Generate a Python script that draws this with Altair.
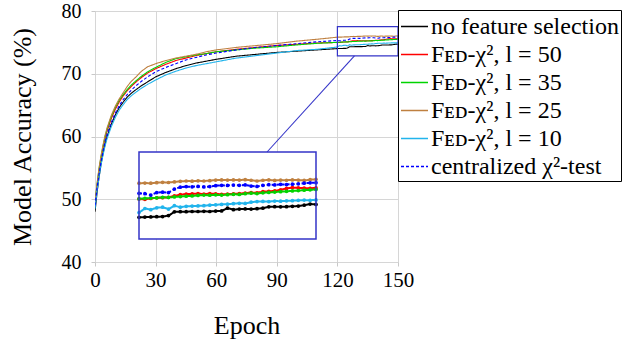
import altair as alt
import pandas as pd

# ---------------- data ----------------
SERIES = ["no feature selection", "Fᴇᴅ-χ², l = 50", "Fᴇᴅ-χ², l = 35",
          "Fᴇᴅ-χ², l = 25", "Fᴇᴅ-χ², l = 10", "centralized χ²-test"]
COLORS = ["#000000", "#ff0000", "#00d400", "#bf8040", "#22b4ec", "#0000ff"]

EPOCHS_EARLY = [0, 1, 2, 3, 4, 5, 6, 8, 10, 12, 14, 16, 18, 20, 23, 26, 30, 35,
                40, 45, 50, 55, 60, 70, 80, 90, 100, 110]
EPOCHS_LATE = [120, 121, 122, 123, 124, 125, 126, 127, 128, 129, 130, 131, 132,
               133, 134, 135, 136, 137, 138, 139, 140, 141, 142, 143, 144, 145,
               146, 147, 148, 149, 150]

none_early = [48.0, 51.0, 53.5, 55.6, 57.3, 58.8, 60.0, 61.9, 63.4, 64.6, 65.5, 66.3, 66.9, 67.4,
              68.1, 68.7, 69.5, 70.2, 70.8, 71.3, 71.7, 72.0, 72.3, 72.8, 73.1, 73.4, 73.6, 73.8]
l50_early = [49.0, 52.0, 54.5, 56.5, 58.2, 59.7, 60.9, 62.8, 64.3, 65.5, 66.5, 67.3, 68.0, 68.6,
             69.4, 70.1, 70.8, 71.5, 72.1, 72.5, 72.9, 73.2, 73.5, 73.9, 74.2, 74.5, 74.7, 74.9]
l35_early = [49.5, 52.3, 54.8, 56.8, 58.5, 60.0, 61.2, 63.1, 64.6, 65.8, 66.7, 67.5, 68.2, 68.8,
             69.6, 70.3, 71.0, 71.8, 72.4, 72.7, 73.0, 73.2, 73.5, 73.8, 74.1, 74.3, 74.6, 74.85]
l25_early = [49.5, 52.5, 55.0, 57.0, 58.7, 60.2, 61.4, 63.3, 64.8, 66.0, 67.0, 68.0, 68.8, 69.4,
             70.4, 71.1, 71.6, 72.1, 72.5, 72.8, 73.1, 73.5, 73.8, 74.2, 74.5, 74.8, 75.2, 75.5]
l10_early = [48.5, 51.3, 53.5, 55.5, 57.1, 58.5, 59.7, 61.5, 63.0, 64.2, 65.1, 65.9, 66.5, 67.0,
             67.7, 68.3, 69.0, 69.8, 70.4, 70.9, 71.3, 71.6, 71.9, 72.5, 72.9, 73.3, 73.7, 73.9]
cent_early = [49.0, 51.8, 54.0, 56.0, 57.7, 59.2, 60.4, 62.2, 63.7, 64.9, 65.9, 66.7, 67.4, 68.0,
              68.8, 69.5, 70.3, 71.0, 71.6, 72.2, 72.6, 73.0, 73.3, 73.8, 74.2, 74.5, 74.8, 75.1]

none_late = [74.01, 74.02, 74.03, 74.04, 74.05, 74.10, 74.30, 74.31, 74.31, 74.32, 74.32, 74.33,
             74.32, 74.34, 74.35, 74.50, 74.42, 74.45, 74.46, 74.45, 74.47, 74.50, 74.57, 74.58,
             74.57, 74.58, 74.60, 74.61, 74.66, 74.72, 74.70]
l50_late = [74.99, 74.97, 75.02, 75.05, 75.06, 75.08, 75.15, 75.22, 75.25, 75.26, 75.28, 75.25,
            75.27, 75.26, 75.24, 75.25, 75.26, 75.28, 75.30, 75.33, 75.32, 75.38, 75.40, 75.42,
            75.48, 75.55, 75.60, 75.58, 75.57, 75.56, 75.58]
l35_late = [75.00, 75.02, 75.04, 75.05, 75.08, 75.07, 75.10, 75.12, 75.14, 75.15, 75.18, 75.20,
            75.19, 75.21, 75.20, 75.22, 75.24, 75.23, 75.27, 75.30, 75.28, 75.32, 75.34, 75.36,
            75.38, 75.40, 75.42, 75.44, 75.46, 75.48, 75.50]
l25_late = [75.83, 75.84, 75.83, 75.86, 75.88, 75.87, 75.90, 75.93, 75.95, 75.94, 75.96, 75.95,
            75.97, 76.00, 76.01, 76.00, 76.01, 76.00, 76.02, 75.99, 75.95, 75.99, 76.01, 75.98,
            76.00, 75.99, 76.01, 76.00, 75.98, 76.02, 76.04]
l10_late = [74.26, 74.48, 74.42, 74.52, 74.55, 74.45, 74.63, 74.55, 74.60, 74.61, 74.62, 74.63,
            74.66, 74.68, 74.70, 74.71, 74.74, 74.76, 74.75, 74.82, 74.85, 74.86, 74.85, 74.88,
            74.87, 74.89, 74.90, 74.92, 74.93, 74.92, 74.94]
cent_late = [75.29, 75.27, 75.20, 75.33, 75.35, 75.33, 75.52, 75.62, 75.65, 75.64, 75.66, 75.63,
             75.65, 75.70, 75.72, 75.71, 75.73, 75.72, 75.74, 75.68, 75.66, 75.72, 75.75, 75.74,
             75.77, 75.76, 75.78, 75.80, 75.83, 75.85, 75.86]

EARLY = [none_early, l50_early, l35_early, l25_early, l10_early, cent_early]
LATE = [none_late, l50_late, l35_late, l25_late, l10_late, cent_late]

X_TICKS = [0, 30, 60, 90, 120, 150]
Y_TICKS = [40, 50, 60, 70, 80]

# ---------------- layout ----------------
TOP, LEFT = 11, 95
W, H = 303, 251
X_DOM, Y_DOM = [0, 150], [40, 80]
SPY_X, SPY_Y = [120, 150], [72.85, 77.5]          # zoomed region (data units)
INSET = (44, 141, 221, 228)                        # inset box (px, plot coords)
FONT = "Liberation Serif, DejaVu Serif, serif"
BOX = "#3434c8"

rows_main, rows_in = [], []
ix0, iy0, ix1, iy1 = INSET
for s, early, late in zip(SERIES, EARLY, LATE):
    for e, v in zip(EPOCHS_EARLY + EPOCHS_LATE, early + late):
        rows_main.append({"series": s, "epoch": e, "acc": v})
    for e, v in zip(EPOCHS_LATE, late):
        # map zoom region into inset box, expressed in main data units
        px = ix0 + (e - SPY_X[0]) / (SPY_X[1] - SPY_X[0]) * (ix1 - ix0)
        py = iy1 - (v - SPY_Y[0]) / (SPY_Y[1] - SPY_Y[0]) * (iy1 - iy0)
        rows_in.append({"series": s, "epoch": px / W * (X_DOM[1] - X_DOM[0]),
                        "acc": Y_DOM[1] - py / H * (Y_DOM[1] - Y_DOM[0])})
df_main = pd.DataFrame(rows_main)
df_in = pd.DataFrame(rows_in)

xsc = alt.Scale(domain=X_DOM, nice=False, zero=False)
ysc = alt.Scale(domain=Y_DOM, nice=False, zero=False)
x_axis = alt.Axis(values=X_TICKS, title="Epoch", titleFont=FONT, titleFontSize=26,
                  titleFontWeight="normal", titleY=63, titleBaseline="middle",
                  labelFont=FONT, labelFontSize=21, labelPadding=3, tickSize=4,
                  labelFlush=False, labelOverlap=False,
                  tickColor="#c8c8c8", domain=False, gridColor="#d6d6d6", labelColor="black",
                  titleColor="black")
y_axis = alt.Axis(values=Y_TICKS, title="Model Accuracy (%)", titleFont=FONT, titleFontSize=26,
                  titleFontWeight="normal", titleX=-73, titleY=H / 2, titleAngle=-90,
                  titleBaseline="middle", titleAlign="center",
                  labelFont=FONT, labelFontSize=20, labelPadding=10, tickSize=4,
                  labelFlush=False, labelOverlap=False,
                  tickColor="#c8c8c8", domain=False, gridColor="#d6d6d6", labelColor="black",
                  titleColor="black")

legend = alt.Legend(title=None, orient="none", legendX=W, legendY=-1, strokeColor="black",
                    fillColor="white", padding=2, cornerRadius=0, labelFont=FONT,
                    labelFontSize=24, labelColor="black", symbolType="stroke", symbolSize=729,
                    symbolStrokeWidth=1.5, rowPadding=1, labelOffset=2, labelLimit=400)
color = alt.Color("series:N", sort=SERIES, scale=alt.Scale(domain=SERIES, range=COLORS), legend=legend)
dash = alt.StrokeDash("series:N", sort=SERIES,
                      scale=alt.Scale(domain=SERIES, range=[[1, 0]] * 5 + [[3, 2]]), legend=legend)

main = alt.Chart(df_main).mark_line(strokeWidth=1.1, clip=True).encode(
    x=alt.X("epoch:Q", scale=xsc, axis=x_axis),
    y=alt.Y("acc:Q", scale=ysc, axis=y_axis),
    color=color, strokeDash=dash, detail="series:N")

one = pd.DataFrame({"k": [0]})
inset_bg = alt.Chart(one).mark_rect(fill="white", stroke=None).encode(
    x=alt.value(ix0), x2=alt.value(ix1), y=alt.value(iy0), y2=alt.value(iy1))

inset_lines = alt.Chart(df_in).mark_line(strokeWidth=2.0).encode(
    x=alt.X("epoch:Q", scale=xsc), y=alt.Y("acc:Q", scale=ysc),
    color=alt.Color("series:N", sort=SERIES, scale=alt.Scale(domain=SERIES, range=COLORS), legend=None),
    strokeDash=alt.StrokeDash("series:N", sort=SERIES,
                              scale=alt.Scale(domain=SERIES, range=[[1, 0]] * 5 + [[7, 5]]), legend=None))
inset_pts = alt.Chart(df_in).mark_point(filled=True, size=14, opacity=1).encode(
    x=alt.X("epoch:Q", scale=xsc), y=alt.Y("acc:Q", scale=ysc),
    color=alt.Color("series:N", sort=SERIES, scale=alt.Scale(domain=SERIES, range=COLORS), legend=None))

inset_border = alt.Chart(one).mark_rect(filled=False, stroke=BOX, strokeWidth=1.5).encode(
    x=alt.value(ix0), x2=alt.value(ix1), y=alt.value(iy0), y2=alt.value(iy1))

spy = alt.Chart(pd.DataFrame({"x": [SPY_X[0]], "x2": [SPY_X[1]], "y": [SPY_Y[0]], "y2": [SPY_Y[1]]})
                ).mark_rect(filled=False, stroke=BOX, strokeWidth=1.2).encode(
    x=alt.X("x:Q", scale=xsc), x2="x2:Q", y=alt.Y("y:Q", scale=ysc), y2="y2:Q")

# connector between centres of the zoom box and the inset, clipped at both borders
sx0 = (SPY_X[0] - X_DOM[0]) / (X_DOM[1] - X_DOM[0]) * W
sx1 = (SPY_X[1] - X_DOM[0]) / (X_DOM[1] - X_DOM[0]) * W
sy0 = (Y_DOM[1] - SPY_Y[1]) / (Y_DOM[1] - Y_DOM[0]) * H
sy1 = (Y_DOM[1] - SPY_Y[0]) / (Y_DOM[1] - Y_DOM[0]) * H
cx_s, cy_s = (sx0 + sx1) / 2, (sy0 + sy1) / 2
cx_i, cy_i = (ix0 + ix1) / 2, (iy0 + iy1) / 2
dx, dy = cx_i - cx_s, cy_i - cy_s
t_start = min(abs((sy1 - cy_s) / dy), abs((sx0 - cx_s) / dx))
t_end = max((iy0 - cy_s) / dy, (ix1 - cx_s) / dx)
conn = alt.Chart(one).mark_rule(stroke=BOX, strokeWidth=1.1).encode(
    x=alt.value(cx_s + t_start * dx), y=alt.value(cy_s + t_start * dy),
    x2=alt.value(cx_s + t_end * dx), y2=alt.value(cy_s + t_end * dy))

chart = alt.layer(main, spy, inset_bg, inset_lines, inset_pts, inset_border, conn).properties(
    width=W, height=H,
    padding={"left": LEFT, "top": TOP, "right": 629 - LEFT - W, "bottom": 345 - TOP - H},
    autosize=alt.AutoSizeParams(type="none"),
).configure_view(stroke="#555555", strokeWidth=1.3).configure_axis(
    labelFont=FONT, titleFont=FONT
).configure(background="white")

chart.save("out.html", embed_options={"renderer": "svg", "actions": False})
